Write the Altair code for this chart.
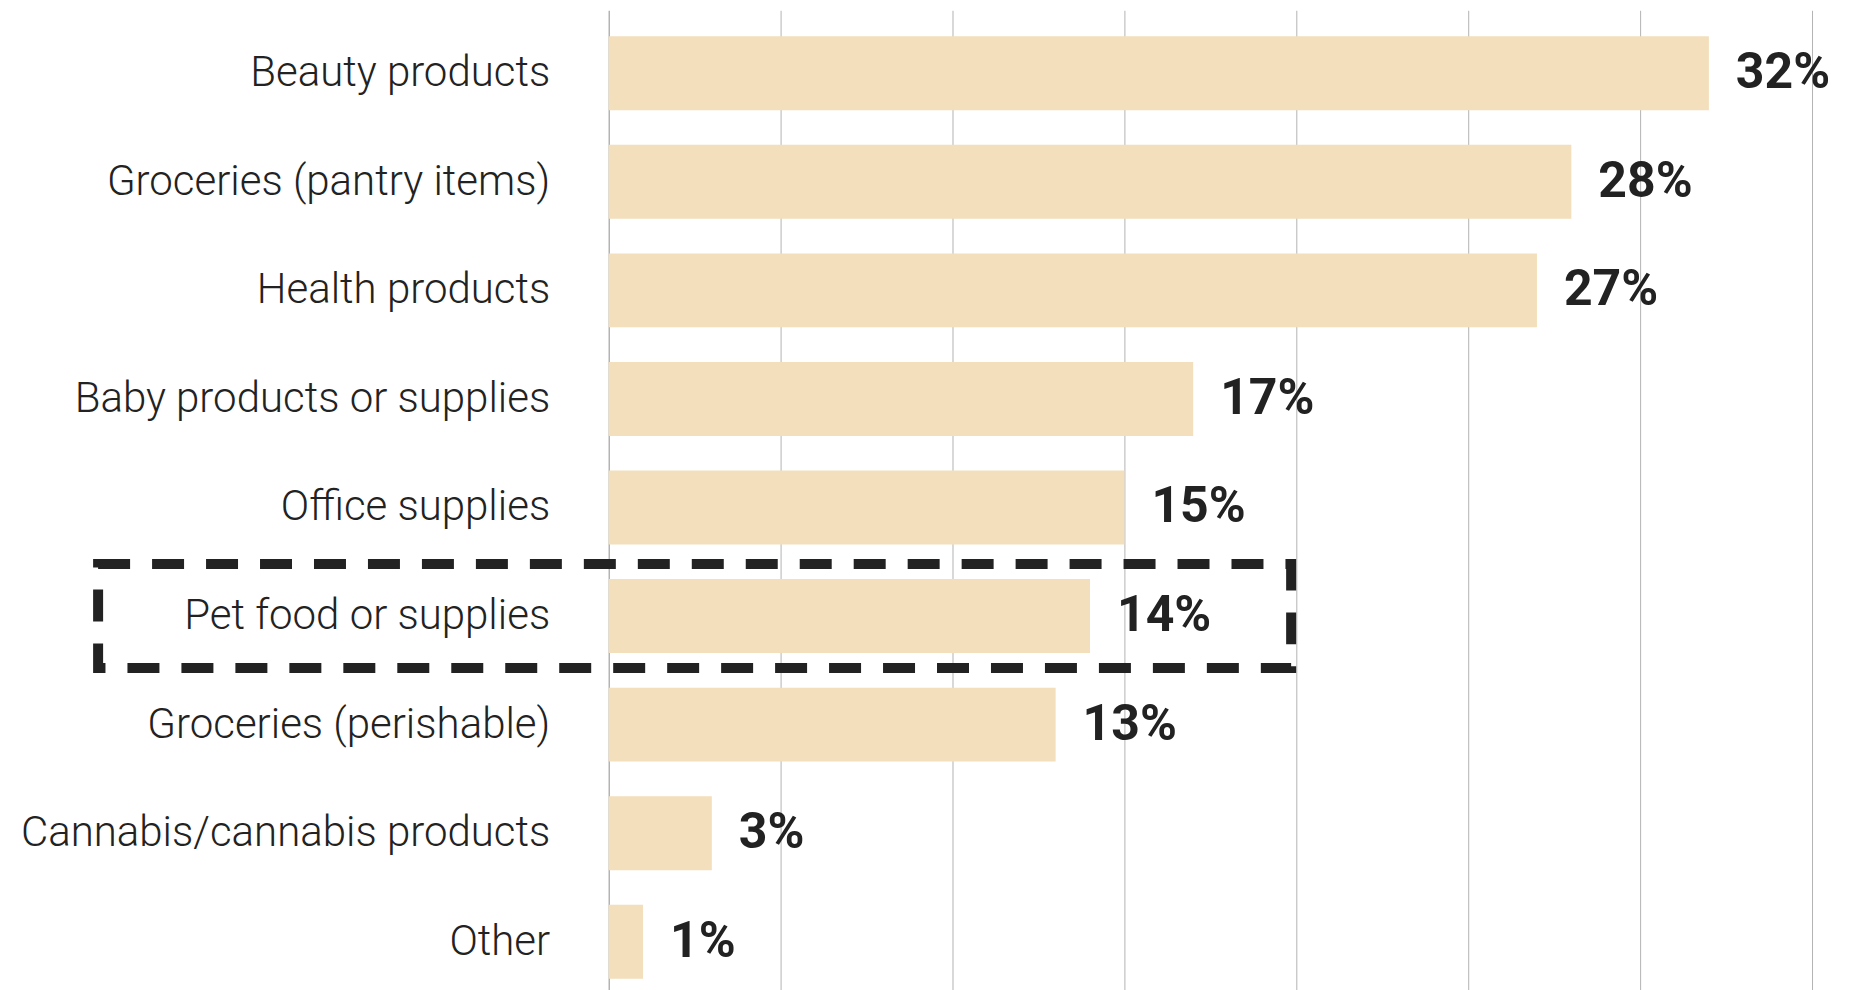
import altair as alt
import pandas as pd

categories = [
    "Beauty products",
    "Groceries (pantry items)",
    "Health products",
    "Baby products or supplies",
    "Office supplies",
    "Pet food or supplies",
    "Groceries (perishable)",
    "Cannabis/cannabis products",
    "Other",
]
values = [32, 28, 27, 17, 15, 14, 13, 3, 1]
highlight = "Pet food or supplies"

df = pd.DataFrame({"category": categories, "value": values})
df["label"] = [f"{v}%" for v in values]

hl_df = pd.DataFrame({"category": [highlight], "x0": [-14.85], "x1": [19.85]})

y_enc = alt.Y(
    "category:N",
    sort=categories,
    title=None,
    scale=alt.Scale(paddingInner=0.3186, paddingOuter=0.2394),
    axis=alt.Axis(
        ticks=False,
        domain=False,
        labelPadding=59,
        labelFont="Roboto Light, Roboto",
        labelFontWeight=300,
        labelFontSize=42,
        labelColor="#222222",
        labelLimit=0,
        grid=False,
    ),
)

x_scale = alt.Scale(domain=[0, 35], nice=False, zero=True)

bars = alt.Chart(df).mark_bar(color="#F3DFBB").encode(
    x=alt.X(
        "value:Q",
        scale=x_scale,
        title=None,
        axis=alt.Axis(
            values=[0, 5, 10, 15, 20, 25, 30, 35],
            labels=False,
            ticks=False,
            domain=False,
            grid=True,
            gridColor={"condition": {"test": "datum.value === 0", "value": "#8f8f8f"}, "value": "#b3b3b3"},
            gridWidth=1,
        ),
    ),
    y=y_enc,
)

text = alt.Chart(df).mark_text(
    align="left",
    baseline="middle",
    dx=27,
    font="Roboto",
    fontWeight="bold",
    fontSize=50,
    color="#222222",
).encode(
    x=alt.X("value:Q", scale=x_scale),
    y=alt.Y("category:N", sort=categories),
    text="label:N",
)

box = alt.Chart(hl_df).mark_bar(
    size=104,
    filled=False,
    fill=None,
    stroke="#222222",
    strokeWidth=10,
    strokeDash=[32, 22],
    clip=False,
).encode(
    x=alt.X("x0:Q", scale=x_scale),
    x2="x1:Q",
    y=alt.Y("category:N", sort=categories),
)

chart = alt.layer(bars, text, box).properties(
    width=1204,
    height=995,
    autosize=alt.AutoSizeParams(type="none"),
    padding={"left": 601, "top": 2, "right": 30, "bottom": 0},
).configure_view(stroke=None)

chart.save("out.html", embed_options={"renderer": "svg", "actions": False})
